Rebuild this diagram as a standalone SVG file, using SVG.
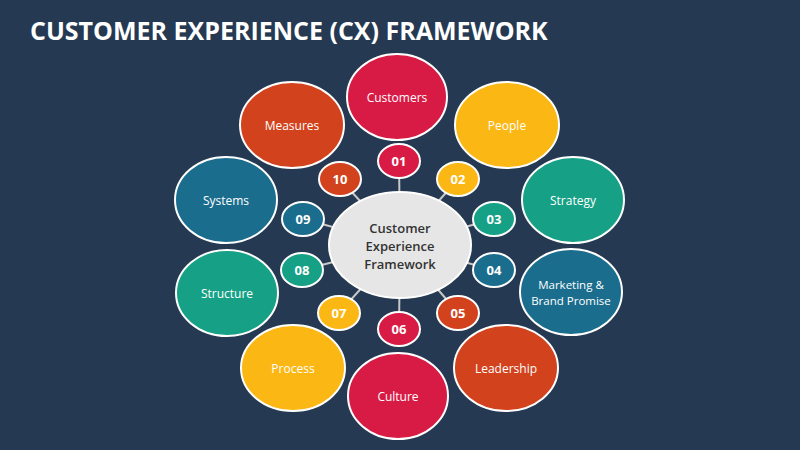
<svg xmlns="http://www.w3.org/2000/svg" width="800" height="450" viewBox="0 0 800 450">
<style>
text{font-family:"Open Sans","Liberation Sans",sans-serif;fill:#fff;text-anchor:middle;dominant-baseline:central}
.big{stroke:#fff;stroke-width:2}
.sm{stroke:#fff;stroke-width:2}
.lb{font-size:12px}
.n{font-size:13px;font-weight:bold}
.red{fill:#d81b45}.yel{fill:#fbb714}.grn{fill:#16a085}.blu{fill:#1b6d8d}.org{fill:#d2421d}
</style>
<rect width="800" height="450" fill="#253a52"/>
<text x="30" y="30" style="font-size:25px;font-weight:bold;text-anchor:start">CUSTOMER EXPERIENCE (CX) FRAMEWORK</text>
<g id="connectors" stroke="#c8c8c8" stroke-width="2">
<line x1="400" y1="245" x2="399" y2="161"/><line x1="400" y1="245" x2="458" y2="179"/>
<line x1="400" y1="245" x2="494" y2="219"/><line x1="400" y1="245" x2="494" y2="270"/>
<line x1="400" y1="245" x2="458" y2="313"/><line x1="400" y1="245" x2="399" y2="329"/>
<line x1="400" y1="245" x2="339" y2="313"/><line x1="400" y1="245" x2="302" y2="270"/>
<line x1="400" y1="245" x2="303" y2="219"/><line x1="400" y1="245" x2="340" y2="179"/>
</g>
<g id="n-customers"><ellipse class="big red" cx="397" cy="97" rx="50" ry="43"/><text class="lb" x="397" y="97">Customers</text></g>
<g id="n-people"><ellipse class="big yel" cx="507" cy="125" rx="52" ry="43"/><text class="lb" x="507" y="125">People</text></g>
<g id="n-strategy"><ellipse class="big grn" cx="573" cy="200" rx="51" ry="43"/><text class="lb" x="573" y="200">Strategy</text></g>
<g id="n-marketing"><ellipse class="big blu" cx="571" cy="292" rx="51" ry="43"/><text class="lb" x="571" y="284" style="font-size:11.5px">Marketing &amp;</text><text class="lb" x="571" y="300" style="font-size:11.5px">Brand Promise</text></g>
<g id="n-leadership"><ellipse class="big org" cx="506" cy="368" rx="52" ry="43"/><text class="lb" x="506" y="368">Leadership</text></g>
<g id="n-culture"><ellipse class="big red" cx="398" cy="396" rx="50" ry="43"/><text class="lb" x="398" y="396">Culture</text></g>
<g id="n-process"><ellipse class="big yel" cx="293" cy="368" rx="52" ry="43"/><text class="lb" x="293" y="368">Process</text></g>
<g id="n-structure"><ellipse class="big grn" cx="227" cy="293" rx="51" ry="43"/><text class="lb" x="227" y="293">Structure</text></g>
<g id="n-systems"><ellipse class="big blu" cx="226" cy="200" rx="51" ry="43"/><text class="lb" x="226" y="200">Systems</text></g>
<g id="n-measures"><ellipse class="big org" cx="292" cy="125" rx="52" ry="43"/><text class="lb" x="292" y="125">Measures</text></g>
<g id="s01"><ellipse class="sm red" cx="399" cy="161" rx="21" ry="17"/><text class="n" x="399" y="161">01</text></g>
<g id="s02"><ellipse class="sm yel" cx="458" cy="179" rx="21" ry="17"/><text class="n" x="458" y="179">02</text></g>
<g id="s03"><ellipse class="sm grn" cx="494" cy="219" rx="21" ry="17"/><text class="n" x="494" y="219">03</text></g>
<g id="s04"><ellipse class="sm blu" cx="494" cy="270" rx="21" ry="17"/><text class="n" x="494" y="270">04</text></g>
<g id="s05"><ellipse class="sm org" cx="458" cy="313" rx="21" ry="17"/><text class="n" x="458" y="313">05</text></g>
<g id="s06"><ellipse class="sm red" cx="399" cy="329" rx="21" ry="17"/><text class="n" x="399" y="329">06</text></g>
<g id="s07"><ellipse class="sm yel" cx="339" cy="313" rx="21" ry="17"/><text class="n" x="339" y="313">07</text></g>
<g id="s08"><ellipse class="sm grn" cx="302" cy="270" rx="21" ry="17"/><text class="n" x="302" y="270">08</text></g>
<g id="s09"><ellipse class="sm blu" cx="303" cy="219" rx="21" ry="17"/><text class="n" x="303" y="219">09</text></g>
<g id="s10"><ellipse class="sm org" cx="340" cy="179" rx="21" ry="17"/><text class="n" x="340" y="179">10</text></g>
<g id="center"><ellipse cx="400" cy="245" rx="71" ry="53" fill="#e6e6e6" stroke="#fff" stroke-width="2"/>
<text x="400" y="228" style="fill:#333;font-size:13px;font-weight:600">Customer</text>
<text x="400" y="246" style="fill:#333;font-size:13px;font-weight:600">Experience</text>
<text x="400" y="264" style="fill:#333;font-size:13px;font-weight:600">Framework</text></g>
</svg>
